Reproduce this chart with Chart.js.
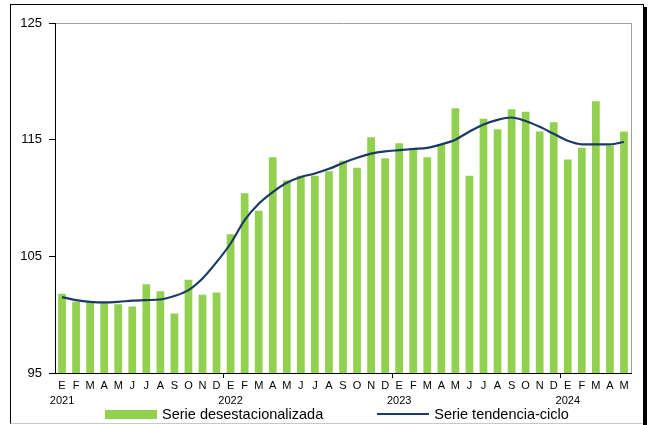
<!DOCTYPE html>
<html>
<head>
<meta charset="utf-8">
<script src="https://cdn.jsdelivr.net/npm/chart.js@4"></script>
<style>
  html, body { margin: 0; padding: 0; background: #fff; }
  #wrap { position: relative; width: 650px; height: 425px; font-family: 'Liberation Sans', Arial, sans-serif; }
  #frame { position: absolute; left: 10px; top: 4px; width: 632px; height: 418px;
           border: 1px solid #000; border-bottom-color: #c8c8c8; }
  #shadow { position: absolute; left: 643px; top: 7px; width: 4px; height: 418px; background: #000; }
  canvas { position: absolute; left: 0; top: 0; }
  #legend { position: absolute; left: 105px; top: 405px; display: flex;
            font-size: 14.5px; color: #000; line-height: 18px; }
  .item { display: flex; align-items: center; margin-right: 54px; }
  .item .sw { width: 52px; margin-right: 5px; }
</style>
</head>
<body>
<div id="wrap">
  <div id="frame"></div>
  <div id="shadow"></div>
  <canvas id="chart" width="650" height="425"></canvas>
  <div id="legend"></div>
</div>
<script>
const monthLetters = ['E', 'F', 'M', 'A', 'M', 'J', 'J', 'A', 'S', 'O', 'N', 'D'];
const years = ['2021', '2022', '2023', '2024'];
const monthCount = 41;

const desestacionalizada = [
  101.8, 101.1, 101.1, 101.0, 100.9, 100.7, 102.6, 102.0, 100.1, 103.0, 101.7, 101.9,
  106.9, 110.4, 108.9, 113.5, 111.5, 111.9, 111.9, 112.3, 113.2, 112.6, 115.2, 113.4,
  114.7, 114.3, 113.5, 114.6, 117.7, 111.9, 116.8, 115.9, 117.6, 117.4, 115.7, 116.5,
  113.3, 114.3, 118.3, 114.5, 115.7
];

const tendenciaCiclo = [
  101.5, 101.25, 101.1, 101.05, 101.1, 101.2, 101.25, 101.3, 101.6, 102.1, 103.1, 104.5,
  106.1, 108.1, 109.5, 110.5, 111.3, 111.8, 112.1, 112.5, 113.0, 113.45, 113.8, 114.0,
  114.1, 114.2, 114.3, 114.6, 115.0, 115.7, 116.3, 116.7, 116.9, 116.6, 116.1, 115.5,
  114.9, 114.6, 114.6, 114.6, 114.8
];

const yTicks = [95, 105, 115, 125];

// month letter, plus the year under each January
const labels = [];
for (let i = 0; i < monthCount; i++) {
  const m = monthLetters[i % 12];
  labels.push(i % 12 === 0 ? [m, years[i / 12]] : m);
}

const font = "'Liberation Sans', Arial, sans-serif";

const ctx = document.getElementById('chart').getContext('2d');
const chart = new Chart(ctx, {
  data: {
    labels,
    datasets: [
      {
        type: 'bar',
        label: 'Serie desestacionalizada',
        data: desestacionalizada,
        backgroundColor: '#92D050',
        borderWidth: 0,
        barPercentage: 0.55,
        categoryPercentage: 1,
        order: 1,
      },
      {
        type: 'line',
        label: 'Serie tendencia-ciclo',
        data: tendenciaCiclo,
        borderColor: '#1B3A66',
        backgroundColor: '#1B3A66',
        borderWidth: 2.2,
        pointRadius: 0,
        tension: 0.4,
        cubicInterpolationMode: 'monotone',
        order: 0,
      },
    ],
  },
  options: {
    responsive: false,
    animation: false,
    layout: { padding: { left: 10, right: 19, top: 23, bottom: 16 } },
    plugins: {
      tooltip: { enabled: false },
      legend: { display: false },
    },
    scales: {
      x: {
        offset: true,
        afterFit: s => { s.height = 36; },
        border: { color: '#000', width: 1 },
        grid: {
          offset: true,
          drawOnChartArea: true,
          color: c => (c.type === 'scale' ? '#a0a0a0' : 'transparent'),
          tickColor: c => (c.type === 'tick' && c.index % 12 === 0 && c.index > 0 ? '#000' : 'transparent'),
          tickLength: 5,
        },
        ticks: {
          autoSkip: false,
          maxRotation: 0,
          padding: 1,
          color: '#000',
          font: { family: font, size: 11, lineHeight: 1.35 },
        },
      },
      y: {
        min: 95,
        max: 125,
        afterFit: s => { s.width = 45; },
        afterBuildTicks: s => { s.ticks = yTicks.map(v => ({ value: v })); },
        border: { color: '#000', width: 1 },
        grid: {
          color: c => (c.tick && c.tick.value === 125 ? '#a0a0a0' : 'transparent'),
          tickColor: '#000',
          tickLength: 6,
        },
        ticks: {
          padding: 7,
          color: '#000',
          font: { family: font, size: 13 },
        },
      },
    },
  },
});

// legend below the chart, built from the datasets
const legendEl = document.getElementById('legend');
chart.data.datasets.forEach(ds => {
  const item = document.createElement('div');
  item.className = 'item';
  const sw = document.createElement('span');
  sw.className = 'sw';
  if (ds.type === 'bar') {
    sw.style.height = '9px';
    sw.style.background = ds.backgroundColor;
  } else {
    sw.style.height = '2px';
    sw.style.background = ds.borderColor;
  }
  const txt = document.createElement('span');
  txt.textContent = ds.label;
  item.appendChild(sw);
  item.appendChild(txt);
  legendEl.appendChild(item);
});
</script>
</body>
</html>
